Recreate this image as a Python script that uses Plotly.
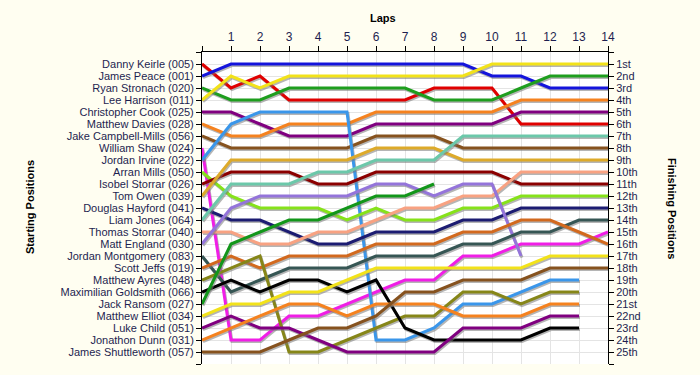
import plotly.graph_objects as go

laps = list(range(15))
lap_labels = [""] + [str(i) for i in range(1, 15)]

drivers = [
    "Danny Keirle (005)", "James Peace (001)", "Ryan Stronach (020)", "Lee Harrison (011)",
    "Christopher Cook (025)", "Matthew Davies (028)", "Jake Campbell-Mills (056)",
    "William Shaw (024)", "Jordan Irvine (022)", "Arran Mills (050)", "Isobel Storrar (026)",
    "Tom Owen (039)", "Douglas Hayford (041)", "Liam Jones (064)", "Thomas Storrar (040)",
    "Matt England (030)", "Jordan Montgomery (083)", "Scott Jeffs (019)", "Matthew Ayres (048)",
    "Maximilian Goldsmith (066)", "Jack Ransom (027)", "Matthew Elliot (034)", "Luke Child (051)",
    "Jonathon Dunn (031)", "James Shuttleworth (057)",
]

colors = [
    "#E00000", "#1414DC", "#1E9E1E", "#F2E21A", "#800080", "#F5821F", "#86521E",
    "#F01EE6", "#3A96EA", "#86E21A", "#8B0000", "#DDAA2A", "#1C1C72", "#6CC8AA",
    "#F8A282", "#9474DA", "#365654", "#D2691E", "#868618", "#000000", "#12961A",
    "#F2E21A", "#800080", "#F5821F", "#86521E",
]

# positions per lap (lap 0 .. last lap completed)
keirle = [1, 3, 2, 4, 4, 4, 4, 4, 3, 3, 3, 6, 6, 6, 6]
peace = [2, 1, 1, 1, 1, 1, 1, 1, 1, 1, 2, 2, 3, 3, 3]
stronach = [3, 4, 4, 3, 3, 3, 3, 3, 4, 4, 4, 3, 2, 2, 2]
harrison = [4, 2, 3, 2, 2, 2, 2, 2, 2, 2, 1, 1, 1, 1, 1]
cook = [5, 5, 6, 7, 7, 7, 6, 6, 6, 6, 6, 5, 5, 5, 5]
davies = [6, 7, 7, 6, 6, 6, 5, 5, 5, 5, 5, 4, 4, 4, 4]
campbell_mills = [7, 8, 8, 8, 8, 8, 7, 7, 7, 8, 8, 8, 8, 8, 8]
shaw = [8, 24, 24, 22, 22, 21, 20, 19, 19, 17, 17, 16, 16, 16, 15]
irvine = [9, 6, 5, 5, 5, 5, 24, 24, 23, 21, 21, 20, 19, 19]
mills = [10, 12, 13, 13, 13, 14, 13, 14, 14, 13, 13, 12, 12, 12, 12]
i_storrar = [11, 10, 10, 10, 11, 11, 10, 10, 10, 10, 10, 11, 11, 11, 11]
owen = [12, 9, 9, 9, 9, 9, 8, 8, 8, 9, 9, 9, 9, 9, 9]
hayford = [13, 14, 14, 15, 16, 16, 15, 15, 15, 14, 14, 13, 13, 13, 13]
jones = [14, 11, 11, 11, 10, 10, 9, 9, 9, 7, 7, 7, 7, 7, 7]
t_storrar = [15, 15, 16, 16, 15, 15, 14, 13, 13, 12, 12, 10, 10, 10, 10]
england = [16, 13, 12, 12, 12, 12, 11, 11, 12, 11, 11, 17]
montgomery = [17, 20, 19, 18, 18, 18, 17, 17, 17, 16, 16, 15, 15, 14, 14]
jeffs = [18, 17, 18, 17, 17, 17, 16, 16, 16, 15, 15, 14, 14, 15, 16]
ayres = [19, 18, 17, 25, 25, 24, 23, 22, 22, 20, 20, 21, 20, 20]
goldsmith = [20, 19, 20, 19, 19, 20, 19, 23, 24, 24, 24, 24, 23, 23]
ransom = [21, 16, 15, 14, 14, 13, 12, 12, 11]
elliot = [22, 21, 21, 20, 20, 19, 18, 18, 18, 18, 18, 18, 17, 17, 17]
child = [23, 22, 23, 23, 24, 25, 25, 25, 25, 23, 23, 23, 22, 22]
dunn = [24, 23, 22, 21, 21, 22, 21, 21, 21, 22, 22, 22, 21, 21]
shuttleworth = [25, 25, 25, 24, 23, 23, 22, 20, 20, 19, 19, 19, 18, 18, 18]

series = [keirle, peace, stronach, harrison, cook, davies, campbell_mills, shaw, irvine,
          mills, i_storrar, owen, hayford, jones, t_storrar, england, montgomery, jeffs,
          ayres, goldsmith, ransom, elliot, child, dunn, shuttleworth]

def ordinal(n):
    if 10 <= n % 100 <= 20:
        suf = "th"
    else:
        suf = {1: "st", 2: "nd", 3: "rd"}.get(n % 10, "th")
    return f"{n}{suf}"

finish_labels = [ordinal(i) for i in range(1, 26)]

# pixel geometry helpers for the drop shadow (in data units)
PX_X = 14 / 406.0
PX_Y = 26 / 312.0
SH_DX = 1.0 * PX_X
SH_DY = 1.6 * PX_Y

fig = go.Figure()
for name, pos, col in zip(drivers, series, colors):
    xs = laps[:len(pos)]
    fig.add_trace(go.Scatter(
        x=[v + SH_DX for v in xs], y=[p + SH_DY for p in pos], mode="lines",
        line=dict(color="rgba(120,120,120,0.55)", width=3),
        hoverinfo="skip", showlegend=False))
    fig.add_trace(go.Scatter(
        x=xs, y=pos, mode="lines", name=name,
        line=dict(color=col, width=3), showlegend=False))

# invisible trace to carry the right-hand axis
fig.add_trace(go.Scatter(x=[0], y=[1], yaxis="y2", mode="markers",
                         marker=dict(opacity=0), hoverinfo="skip", showlegend=False))

FONT = "Liberation Sans, Arial, sans-serif"
tick_font = dict(family=FONT, size=11, color="#1E1E50")
grid = "#E4E4E4"

fig.update_layout(
    width=700, height=375,
    margin=dict(l=202, r=92, t=52, b=11),
    paper_bgcolor="#FFFEF1",
    plot_bgcolor="#FFFFFF",
    showlegend=False,
    xaxis=dict(
        side="top", range=[0, 14], tickvals=laps, ticktext=lap_labels,
        ticks="outside", ticklen=5, tickcolor="black", showline=True,
        linecolor="black", linewidth=1, showgrid=True, gridcolor=grid,
        zeroline=False, tickfont=dict(family=FONT, size=12, color="#1E1E50"),
        fixedrange=True,
    ),
    yaxis=dict(
        range=[26, 0], tickvals=list(range(27)),
        ticktext=[""] + drivers + [""],
        ticks="outside", ticklen=5, tickcolor="black", showline=True,
        linecolor="black", linewidth=1, showgrid=True, gridcolor=grid,
        zeroline=False, tickfont=tick_font, fixedrange=True,
    ),
    yaxis2=dict(
        overlaying="y", side="right", range=[26, 0], tickvals=list(range(27)),
        ticktext=[""] + finish_labels + [""],
        ticks="outside", ticklen=5, tickcolor="black", showline=True,
        linecolor="black", linewidth=1, showgrid=False, zeroline=False,
        tickfont=dict(family=FONT, size=11, color="#1E1E50"),
        fixedrange=True,
    ),
    annotations=[
        dict(text="<b>Laps</b>", xref="paper", yref="paper",
             x=(383 - 202) / 406, y=(364 - 18) / 312, showarrow=False,
             xanchor="center", yanchor="middle",
             font=dict(family=FONT, size=11, color="black")),
        dict(text="<b>Starting Positions</b>", xref="paper", yref="paper",
             x=(30 - 202) / 406, y=(364 - 207) / 312, showarrow=False, textangle=-90,
             xanchor="center", yanchor="middle",
             font=dict(family=FONT, size=11, color="black")),
        dict(text="<b>Finishing Positions</b>", xref="paper", yref="paper",
             x=(672 - 202) / 406, y=(364 - 208) / 312, showarrow=False, textangle=90,
             xanchor="center", yanchor="middle",
             font=dict(family=FONT, size=11, color="black")),
    ],
)

fig.write_html(
    "out.html",
    config={"displayModeBar": False},
    post_script="document.body.style.margin='0';document.body.style.background='#FFFEF1';",
)
